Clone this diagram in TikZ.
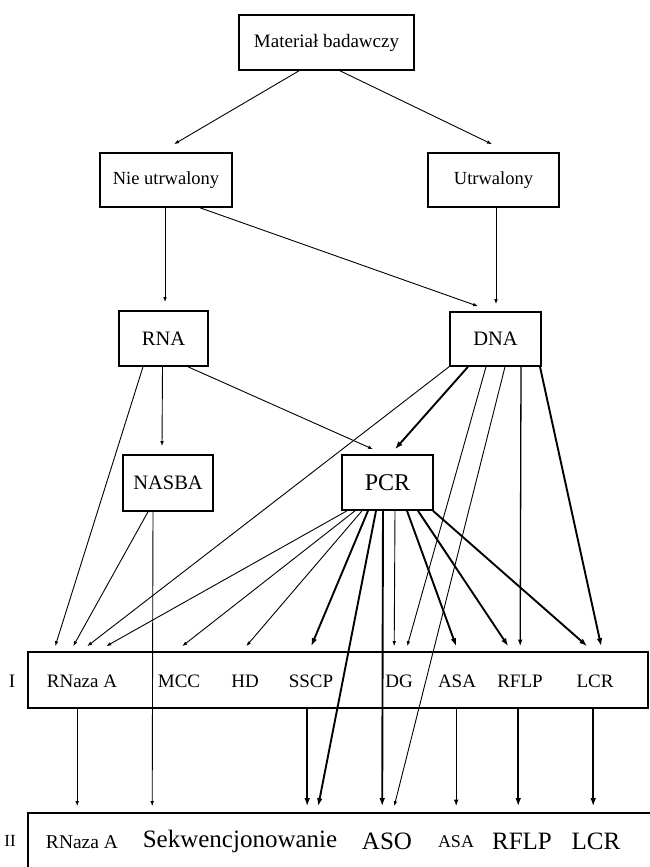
\documentclass[tikz,border=0pt]{standalone}
\usepackage{fontspec}
\setmainfont{Liberation Serif}
\usetikzlibrary{arrows.meta}
\begin{document}
\begin{tikzpicture}[x=1pt,y=-1pt,
  box/.style={draw, line width=1.6pt, inner sep=0pt, align=center},
  fs/.style={font=\fontsize{#1}{#1}\selectfont},
  lab/.style={inner sep=0pt, anchor=center},
  thinarr/.style={line width=0.9pt, -{Latex[length=5pt,width=3.6pt]}},
  midarr/.style={line width=1.3pt, -{Latex[length=6.5pt,width=4.6pt]}},
  boldarr/.style={line width=1.9pt, -{Latex[length=8pt,width=5.6pt]}}]
\useasboundingbox (0,0) rectangle (649,867);

% upper boxes
\node[box, fs=19, minimum width=175pt, minimum height=55pt] (mat) at (326.5,42.5) {Materiał badawczy};
\node[box, fs=18.5, minimum width=132pt, minimum height=54pt] (nie) at (166,180) {Nie utrwalony};
\node[box, fs=18.5, minimum width=131pt, minimum height=54pt] (utr) at (493.5,180) {Utrwalony};
\node[box, fs=20.5, minimum width=89pt, minimum height=55pt] (rna) at (163.5,338.5) {RNA};
\node[box, fs=20.5, minimum width=91pt, minimum height=54pt] (dna) at (495.5,339) {DNA};
\node[box, fs=20.5, minimum width=90pt, minimum height=56pt] (nasba) at (168,483) {NASBA};
\node[box, fs=24, minimum width=91pt, minimum height=55pt] (pcr) at (387.5,482.5) {PCR};

% level I and level II bands
\node[box, minimum width=620pt, minimum height=56pt] (rowI) at (338,680) {};
\node[box, minimum width=640pt, minimum height=64pt] (rowII) at (348,845) {};
\node[lab, fs=19] (nI) at (12,681) {I};
\node[lab, fs=17] (nII) at (10,841) {II};

% level I methods
\node[lab, fs=19] (i1) at (82,681) {RNaza A};
\node[lab, fs=19] (i2) at (179,681) {MCC};
\node[lab, fs=19] (i3) at (245,681) {HD};
\node[lab, fs=19] (i4) at (311,681) {SSCP};
\node[lab, fs=19] (i5) at (399,681) {DG};
\node[lab, fs=19] (i6) at (457,681) {ASA};
\node[lab, fs=19] (i7) at (520,681) {RFLP};
\node[lab, fs=19] (i8) at (595,681) {LCR};

% level II methods
\node[lab, fs=19.5] (j1) at (82,842) {RNaza A};
\node[lab, fs=25] (j2) at (240,841) {Sekwencjonowanie};
\node[lab, fs=25] (j3) at (387,841) {ASO};
\node[lab, fs=18] (j4) at (456,842) {ASA};
\node[lab, fs=25] (j5) at (522,841) {RFLP};
\node[lab, fs=25] (j6) at (596,841) {LCR};

% material -> fixed / unfixed
\draw[thinarr] ([xshift=-27.5pt]mat.south) -- ([xshift=8pt,yshift=8pt]nie.north);
\draw[thinarr] ([xshift=13.5pt]mat.south) -- ([xshift=-1.5pt,yshift=8pt]utr.north);

% -> nucleic acids
\draw[thinarr] ([xshift=-1pt]nie.south) -- ([xshift=1.5pt,yshift=8pt]rna.north);
\draw[thinarr] ([xshift=34pt]nie.south) -- ([xshift=-17.5pt,yshift=5pt]dna.north);
\draw[thinarr] ([xshift=2.5pt]utr.south) -- ([xshift=0.5pt,yshift=7pt]dna.north);

% from RNA
\draw[thinarr] ([xshift=-20.5pt]rna.south) -- ([xshift=28pt,yshift=5pt]rowI.north west);
\draw[thinarr] ([xshift=-1pt]rna.south) -- ([xshift=-6pt,yshift=8pt]nasba.north);
\draw[thinarr] ([xshift=24.5pt]rna.south) -- ([xshift=-14.5pt,yshift=5pt]pcr.north);

% from NASBA
\draw[thinarr] ([xshift=-20pt]nasba.south) -- ([xshift=46pt,yshift=5pt]rowI.north west);
\draw[thinarr] ([xshift=-15pt]nasba.south) -- ([xshift=125pt,yshift=6pt]rowII.north west);

% from DNA
\draw[thinarr] ([xshift=-46.5pt]dna.south) -- ([xshift=60pt,yshift=5pt]rowI.north west);
\draw[boldarr] ([xshift=-27.5pt]dna.south) -- ([xshift=7.5pt,yshift=5pt]pcr.north);
\draw[thinarr] ([xshift=-9.5pt]dna.south) -- ([xshift=380pt,yshift=5pt]rowI.north west);
\draw[thinarr] ([xshift=9.5pt]dna.south) -- ([xshift=367pt,yshift=6pt]rowII.north west);
\draw[midarr] ([xshift=25.5pt]dna.south) -- ([xshift=493pt,yshift=5pt]rowI.north west);
\draw[boldarr] ([xshift=44.5pt]dna.south) -- ([xshift=574pt,yshift=5pt]rowI.north west);

% from PCR
\draw[thinarr] ([xshift=-40.5pt]pcr.south) -- ([xshift=79pt,yshift=5pt]rowI.north west);
\draw[thinarr] ([xshift=-32.5pt]pcr.south) -- ([xshift=155pt,yshift=5pt]rowI.north west);
\draw[thinarr] ([xshift=-25.5pt]pcr.south) -- ([xshift=219pt,yshift=5pt]rowI.north west);
\draw[boldarr] ([xshift=-19.5pt]pcr.south) -- ([xshift=284pt,yshift=5pt]rowI.north west);
\draw[boldarr] ([xshift=-11.5pt]pcr.south) -- ([xshift=291pt,yshift=6pt]rowII.north west);
\draw[boldarr] ([xshift=-4.5pt]pcr.south) -- ([xshift=355pt,yshift=6pt]rowII.north west);
\draw[thinarr] ([xshift=7.5pt]pcr.south) -- ([xshift=367pt,yshift=5pt]rowI.north west);
\draw[boldarr] ([xshift=19.5pt]pcr.south) -- ([xshift=429pt,yshift=5pt]rowI.north west);
\draw[boldarr] ([xshift=30.5pt]pcr.south) -- ([xshift=481pt,yshift=5pt]rowI.north west);
\draw[boldarr] ([xshift=45.5pt]pcr.south) -- ([xshift=560pt,yshift=5pt]rowI.north west);

% level I -> level II
\draw[thinarr] ([xshift=50pt]rowI.south west) -- ([xshift=50pt,yshift=6pt]rowII.north west);
\draw[boldarr] ([xshift=280pt]rowI.south west) -- ([xshift=280pt,yshift=6pt]rowII.north west);
\draw[midarr] ([xshift=429pt]rowI.south west) -- ([xshift=429pt,yshift=6pt]rowII.north west);
\draw[boldarr] ([xshift=491pt]rowI.south west) -- ([xshift=491pt,yshift=6pt]rowII.north west);
\draw[boldarr] ([xshift=566pt]rowI.south west) -- ([xshift=566pt,yshift=6pt]rowII.north west);
\end{tikzpicture}
\end{document}
